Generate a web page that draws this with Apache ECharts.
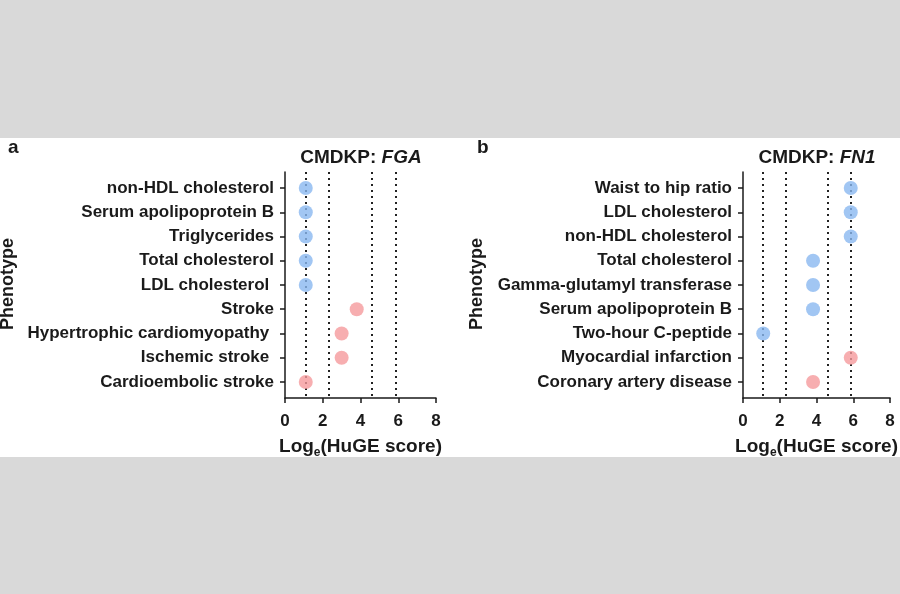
<!DOCTYPE html>
<html>
<head>
<meta charset="utf-8">
<script src="https://cdn.jsdelivr.net/npm/echarts@6/dist/echarts.min.js"></script>
<style>
  html, body { margin: 0; padding: 0; background: #d9d9d9; }
  #band { position: absolute; left: 0; top: 138px; width: 900px; height: 319px; background: #fff; }
  #chart { position: absolute; left: 0; top: 0; width: 900px; height: 594px; }
</style>
</head>
<body>
<div id="band"></div>
<div id="chart"></div>
<script>
// panel a: FGA
var phenotypesA = ["non-HDL cholesterol", "Serum apolipoprotein B", "Triglycerides", "Total cholesterol",
  "LDL cholesterol ", "Stroke", "Hypertrophic cardiomyopathy ", "Ischemic stroke ", "Cardioembolic stroke"];
var scoresA = [1.1, 1.1, 1.1, 1.1, 1.1, 3.8, 3.0, 3.0, 1.1];
var groupA = ["blue", "blue", "blue", "blue", "blue", "red", "red", "red", "red"];

// panel b: FN1
var phenotypesB = ["Waist to hip ratio", "LDL cholesterol", "non-HDL cholesterol", "Total cholesterol",
  "Gamma-glutamyl transferase", "Serum apolipoprotein B", "Two-hour C-peptide", "Myocardial infarction",
  "Coronary artery disease"];
var scoresB = [5.86, 5.86, 5.86, 3.81, 3.81, 3.81, 1.1, 5.86, 3.81];
var groupB = ["blue", "blue", "blue", "blue", "blue", "blue", "blue", "red", "red"];

// HuGE thresholds on log scale: ln 3, ln 10, ln 100, ln 350
var thresholds = [1.0986, 2.3026, 4.6052, 5.8579];

var colors = { blue: "#8ab8f0", red: "#f59a9c" };
var font = "Liberation Sans, Arial, Helvetica, sans-serif";
var ink = "#1a1a1a";

var chart = echarts.init(document.getElementById("chart"));

function xAxisFor(idx) {
  return {
    gridIndex: idx, type: "value", min: 0, max: 8, interval: 2,
    axisLine: { show: true, onZero: false, lineStyle: { color: ink, width: 1.5 } },
    axisTick: { show: true, length: 5, lineStyle: { color: ink, width: 1.5 } },
    splitLine: { show: false },
    axisLabel: { margin: 15, color: ink, fontSize: 17, fontWeight: "bold", fontFamily: font },
    name: "Log{sub|e}(HuGE score)",
    nameLocation: "middle", nameGap: 37,
    nameTextStyle: {
      color: ink, fontSize: 19, fontWeight: "bold", fontFamily: font,
      rich: { sub: { fontSize: 12, fontWeight: "bold", fontFamily: font, color: ink, verticalAlign: "bottom", padding: [12, 0, 0, 0] } }
    }
  };
}

function yAxisFor(idx, names) {
  var idxs = names.map(function (n, i) { return i; });
  return {
    gridIndex: idx, type: "value", inverse: true, min: -0.66, max: 8.66,
    axisLine: { show: true, onZero: false, lineStyle: { color: ink, width: 1.5 } },
    axisTick: { show: true, length: 5, customValues: idxs, lineStyle: { color: ink, width: 1.5 } },
    splitLine: { show: false },
    axisLabel: {
      customValues: idxs, margin: 11, color: ink, fontSize: 17, fontWeight: "bold", fontFamily: font,
      formatter: function (v) { return names[Math.round(v)]; }
    }
  };
}

function seriesFor(idx, scores, groups) {
  return [
    {
      // dotted threshold lines, kept under the dots
      type: "scatter", xAxisIndex: idx, yAxisIndex: idx, data: [], z: 1,
      markLine: {
        silent: true, symbol: "none", label: { show: false }, z: 1,
        lineStyle: { color: "#222", width: 2, type: [2, 4] },
        data: thresholds.map(function (t) { return { xAxis: t }; })
      }
    },
    {
      type: "scatter", xAxisIndex: idx, yAxisIndex: idx, symbolSize: 14, z: 6,
      data: scores.map(function (s, i) {
        return { value: [s, i], itemStyle: { color: colors[groups[i]] } };
      })
    }
  ];
}

chart.setOption({
  animation: false,
  grid: [
    { left: 285, top: 172, width: 151, height: 226 },
    { left: 743, top: 172, width: 150, height: 226 }
  ],
  title: [
    { text: "a", left: 3, top: 133, textStyle: { fontSize: 19, fontWeight: "bold", fontFamily: font, color: ink } },
    { text: "b", left: 472, top: 133, textStyle: { fontSize: 19, fontWeight: "bold", fontFamily: font, color: ink } },
    {
      text: "CMDKP: {i|FGA}", left: 356, top: 143, textAlign: "center",
      textStyle: { fontSize: 19, fontWeight: "bold", fontFamily: font, color: ink,
        rich: { i: { fontSize: 19, fontWeight: "bold", fontStyle: "italic", fontFamily: font, color: ink } } }
    },
    {
      text: "CMDKP: {i|FN1}", left: 812, top: 143, textAlign: "center",
      textStyle: { fontSize: 19, fontWeight: "bold", fontFamily: font, color: ink,
        rich: { i: { fontSize: 19, fontWeight: "bold", fontStyle: "italic", fontFamily: font, color: ink } } }
    }
  ],
  graphic: [
    { type: "text", x: 8, y: 284, rotation: Math.PI / 2,
      style: { text: "Phenotype", fill: ink, font: "bold 18px " + font, align: "center", verticalAlign: "middle" } },
    { type: "text", x: 477, y: 284, rotation: Math.PI / 2,
      style: { text: "Phenotype", fill: ink, font: "bold 18px " + font, align: "center", verticalAlign: "middle" } }
  ],
  xAxis: [xAxisFor(0), xAxisFor(1)],
  yAxis: [yAxisFor(0, phenotypesA), yAxisFor(1, phenotypesB)],
  series: seriesFor(0, scoresA, groupA).concat(seriesFor(1, scoresB, groupB))
});
</script>
</body>
</html>
